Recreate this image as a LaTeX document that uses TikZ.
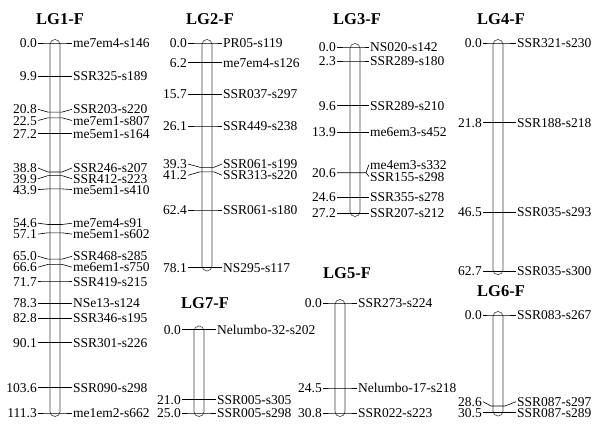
\documentclass[tikz,border=0pt]{standalone}
\usepackage{fontspec}
\setmainfont{Liberation Serif}
\tikzset{
  lbl/.style={font=\fontsize{13.5}{14}\selectfont, inner xsep=1pt, inner ysep=0pt, text height=9.2pt, text depth=0pt},
  ttl/.style={font=\fontsize{16.5}{18}\selectfont\bfseries, inner sep=0pt},
  chrom/.style={draw=black!75, line width=0.6pt, rounded corners=4.9pt},
  tickline/.style={draw=black, line width=0.6pt},
}
\newcommand{\grp}[4]{\def\xl{#1}\def\bl{#2}\def\br{#3}\def\xr{#4}}
\newcommand{\mk}[5]{%
  \node[lbl,anchor=east] (L#1) at (\xl,#3) {#4};
  \node[lbl,anchor=west] (R#1) at (\xr,#3) {#5};
  \draw[tickline] (L#1.east) -- (\bl-2,#2) -- (\br+2,#2) -- (R#1.west);
}
\newcommand{\chrom}[2]{\draw[chrom] (\bl,#1) rectangle (\br,#2);}
\begin{document}
\begin{tikzpicture}[x=1pt,y=-1pt]
\useasboundingbox (0,0) rectangle (600,431);

% ---------- LG1 ----------
\node[ttl] (t1) at (60,19.5) {LG1-F};
\grp{38}{50}{60}{72}
\chrom{39.5}{416.5}
\mk{a1}{43}{43}{0.0}{me7em4-s146}
\mk{a2}{75.9}{75.9}{9.9}{SSR325-s189}
\mk{a3}{112.1}{109.3}{20.8}{SSR203-s220}
\mk{a4}{117.8}{120.5}{22.5}{me7em1-s807}
\mk{a5}{133.4}{133.4}{27.2}{me5em1-s164}
\mk{a6}{172.0}{168.0}{38.8}{SSR246-s207}
\mk{a7}{175.6}{178.8}{39.9}{SSR412-s223}
\mk{a8}{188.9}{189.6}{43.9}{me5em1-s410}
\mk{a9}{224.5}{223.2}{54.6}{me7em4-s91}
\mk{a10}{232.8}{234.1}{57.1}{me5em1-s602}
\mk{a11}{259.1}{256.3}{65.0}{SSR468-s285}
\mk{a12}{264.4}{267.2}{66.6}{me6em1-s750}
\mk{a13}{281.3}{281.5}{71.7}{SSR419-s215}
\mk{a14}{303.3}{303.3}{78.3}{NSe13-s124}
\mk{a15}{318.2}{318.2}{82.8}{SSR346-s195}
\mk{a16}{342.5}{342.5}{90.1}{SSR301-s226}
\mk{a17}{387.4}{387.4}{103.6}{SSR090-s298}
\mk{a18}{413}{413}{111.3}{me1em2-s662}

% ---------- LG2 ----------
\node[ttl] (t2) at (210,19.5) {LG2-F};
\grp{188}{202}{212}{222}
\chrom{39.5}{271}
\mk{b1}{43}{43}{0.0}{PR05-s119}
\mk{b2}{62.7}{62.7}{6.2}{me7em4-s126}
\mk{b3}{94.3}{94.3}{15.7}{SSR037-s297}
\mk{b4}{126}{126}{26.1}{SSR449-s238}
\mk{b5}{167.3}{164}{39.3}{SSR061-s199}
\mk{b6}{171.8}{175.3}{41.2}{SSR313-s220}
\mk{b7}{210}{210}{62.4}{SSR061-s180}
\mk{b8}{267.5}{267.5}{78.1}{NS295-s117}

% ---------- LG3 ----------
\node[ttl] (t3) at (357,19.5) {LG3-F};
\grp{337}{350}{360}{369}
\chrom{43.5}{216.5}
\mk{c1}{47}{47}{0.0}{NS020-s142}
\mk{c2}{61}{61}{2.3}{SSR289-s180}
\mk{c3}{105.6}{105.6}{9.6}{SSR289-s210}
\mk{c4}{131.8}{131.8}{13.9}{me6em3-s452}
\node[lbl,anchor=east] (Lc5) at (\xl,172.7) {20.6};
\node[lbl,anchor=west] (Rc5a) at (\xr,164.5) {me4em3-s332};
\node[lbl,anchor=west] (Rc5b) at (\xr,176.5) {SSR155-s298};
\coordinate (kc5) at (\xr-3,172.7);
\draw[tickline] (Lc5.east) -- (\bl-2,172.7) -- (kc5) -- (Rc5b.west);
\draw[tickline] (kc5) -- (Rc5a.west);
\mk{c6}{197.1}{197.1}{24.6}{SSR355-s278}
\mk{c7}{212.9}{212.9}{27.2}{SSR207-s212}

% ---------- LG4 ----------
\node[ttl] (t4) at (501,19.5) {LG4-F};
\grp{483}{493}{503}{516}
\chrom{39.5}{274.7}
\mk{d1}{43}{43}{0.0}{SSR321-s230}
\mk{d2}{122.4}{122.4}{21.8}{SSR188-s218}
\mk{d3}{212.3}{212.3}{46.5}{SSR035-s293}
\mk{d4}{271.2}{271.2}{62.7}{SSR035-s300}

% ---------- LG5 ----------
\node[ttl] (t5) at (347,273.3) {LG5-F};
\grp{323}{335}{345}{357}
\chrom{299.5}{416.5}
\mk{e1}{303}{303}{0.0}{SSR273-s224}
\mk{e2}{388}{388}{24.5}{Nelumbo-17-s218}
\mk{e3}{413}{413}{30.8}{SSR022-s223}

% ---------- LG6 ----------
\node[ttl] (t6) at (501,291.5) {LG6-F};
\grp{483}{493}{503}{516}
\chrom{311.5}{416}
\mk{f1}{315}{315}{0.0}{SSR083-s267}
\mk{f2}{406}{401.7}{28.6}{SSR087-s297}
\mk{f3}{412.5}{412.5}{30.5}{SSR087-s289}

% ---------- LG7 ----------
\node[ttl] (t7) at (205,303.5) {LG7-F};
\grp{182}{194}{204}{216}
\chrom{326}{416.5}
\mk{g1}{329.5}{329.5}{0.0}{Nelumbo-32-s202}
\mk{g2}{399.5}{399.5}{21.0}{SSR005-s305}
\mk{g3}{413}{413}{25.0}{SSR005-s298}
\end{tikzpicture}
\end{document}
